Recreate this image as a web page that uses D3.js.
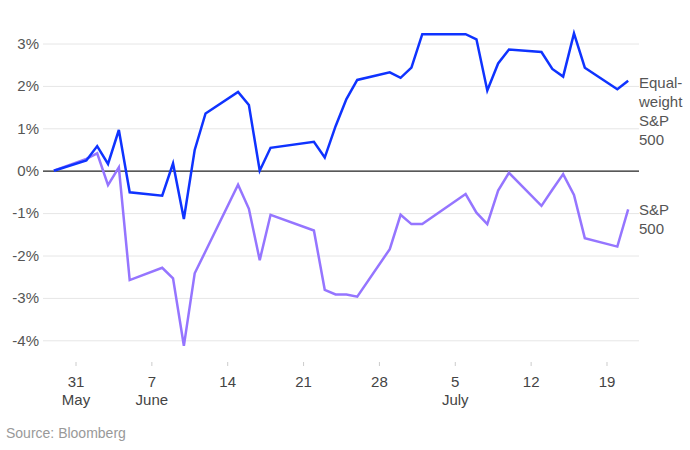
<!DOCTYPE html>
<html>
<head>
<meta charset="utf-8">
<script src="https://cdn.jsdelivr.net/npm/d3@7"></script>
<style>
  body { margin: 0; background: #fff; }
  svg text { font-family: "Liberation Sans", Arial, sans-serif; }
</style>
</head>
<body>
<script>
var dates = ["2020-05-29","2020-06-01","2020-06-02","2020-06-03","2020-06-04","2020-06-05",
  "2020-06-08","2020-06-09","2020-06-10","2020-06-11","2020-06-12",
  "2020-06-15","2020-06-16","2020-06-17","2020-06-18",
  "2020-06-22","2020-06-23","2020-06-24","2020-06-25","2020-06-26",
  "2020-06-29","2020-06-30","2020-07-01","2020-07-02",
  "2020-07-06","2020-07-07","2020-07-08","2020-07-09","2020-07-10",
  "2020-07-13","2020-07-14","2020-07-15","2020-07-16","2020-07-17",
  "2020-07-20","2020-07-21"];

var equalWeight = [0, 0.24, 0.58, 0.16, 0.96, -0.51,
  -0.59, 0.17, -1.14, 0.49, 1.35,
  1.86, 1.55, 0.00, 0.54,
  0.68, 0.31, 1.05, 1.69, 2.14,
  2.32, 2.19, 2.43, 3.22,
  3.22, 3.10, 1.89, 2.53, 2.86,
  2.80, 2.40, 2.22, 3.24, 2.43,
  1.92, 2.12];

var sp500 = [0, 0.28, 0.41, -0.34, 0.08, -2.58,
  -2.29, -2.54, -4.13, -2.42, -1.90,
  -0.33, -0.90, -2.11, -1.04,
  -1.41, -2.81, -2.92, -2.92, -2.97,
  -1.85, -1.04, -1.26, -1.26,
  -0.55, -0.99, -1.26, -0.47, -0.05,
  -0.83, -0.45, -0.08, -0.57, -1.59,
  -1.79, -0.91];

var yTicks = [-4, -3, -2, -1, 0, 1, 2, 3];
var monthNames = {"4": "May", "5": "June", "6": "July"};

var w = 690, h = 450;
var parse = d3.timeParse("%Y-%m-%d");
var days = dates.map(parse);

var x = d3.scaleTime()
  .domain([parse("2020-05-28"), parse("2020-07-22")])
  .range([43, 639]);

var y = d3.scaleLinear()
  .domain([-4.5, 3.5])
  .range([361.5, 22.3]);

var svg = d3.select("body").append("svg")
  .attr("width", w)
  .attr("height", h);

// grid + y labels
var yAxis = svg.append("g")
  .attr("transform", "translate(639,0)")
  .call(d3.axisLeft(y).tickValues(yTicks).tickSize(596).tickFormat(function(d){ return d + "%"; }));
yAxis.select(".domain").remove();
yAxis.selectAll(".tick line")
  .attr("stroke", function(d){ return d === 0 ? "#222" : "#e6e6e6"; })
  .attr("stroke-width", function(d){ return d === 0 ? 1.3 : 1; });
yAxis.selectAll(".tick text")
  .attr("x", -600)
  .attr("fill", "#555")
  .attr("font-size", 15);

// x axis
var seen = {};
var xAxis = svg.append("g")
  .attr("transform", "translate(0,362)")
  .call(d3.axisBottom(x).ticks(d3.timeSunday.every(1)).tickSize(4).tickPadding(10).tickFormat(d3.timeFormat("%-d")));
xAxis.select(".domain").remove();
xAxis.selectAll(".tick line").attr("stroke", "#ccc");
xAxis.selectAll(".tick text")
  .attr("fill", "#444")
  .attr("font-size", 15)
  .each(function(d){
    var m = d.getMonth();
    if (!seen[m]) {
      seen[m] = true;
      d3.select(this).append("tspan")
        .attr("x", 0)
        .attr("dy", "1.2em")
        .text(monthNames[m]);
    }
  });

var line = function(vals){
  return d3.line()
    .x(function(d, i){ return x(days[i]); })
    .y(function(d){ return y(d); })(vals);
};

svg.append("path")
  .attr("d", line(sp500))
  .attr("fill", "none")
  .attr("stroke", "#9575ff")
  .attr("stroke-width", 2.5)
  .attr("stroke-linejoin", "miter");

svg.append("path")
  .attr("d", line(equalWeight))
  .attr("fill", "none")
  .attr("stroke", "#0f33ff")
  .attr("stroke-width", 2.5)
  .attr("stroke-linejoin", "miter");

// series labels
var labels = [
  {lines: ["Equal-", "weight", "S&P", "500"], top: 88},
  {lines: ["S&P", "500"], top: 215}
];
labels.forEach(function(l){
  var t = svg.append("text")
    .attr("x", 639)
    .attr("y", l.top)
    .attr("fill", "#555")
    .attr("font-size", 15);
  l.lines.forEach(function(s, i){
    t.append("tspan").attr("x", 639).attr("dy", i ? 19 : 0).text(s);
  });
});

svg.append("text")
  .attr("x", 6)
  .attr("y", 438)
  .attr("fill", "#999")
  .attr("font-size", 14)
  .text("Source: Bloomberg");
</script>
</body>
</html>
